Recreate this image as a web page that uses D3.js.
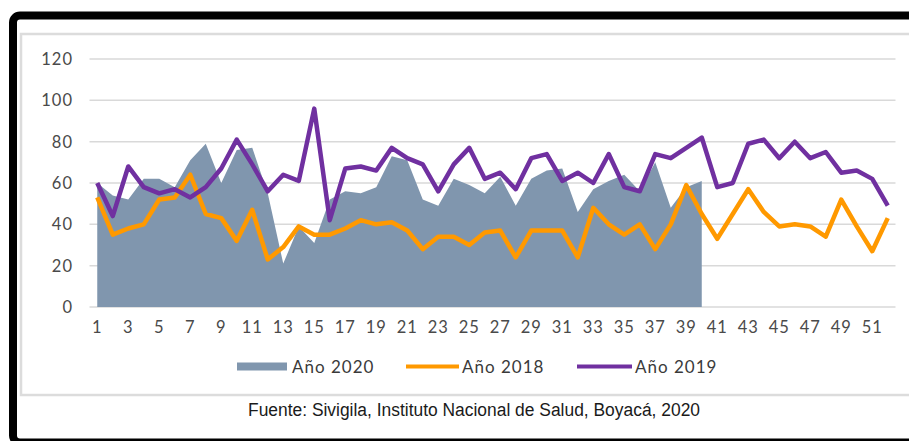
<!DOCTYPE html>
<html>
<head>
<meta charset="utf-8">
<script src="https://cdn.jsdelivr.net/npm/d3@7"></script>
<style>
  body { margin: 0; background: #fff; }
  svg { display: block; }
  .tick-label { font-family: Lato, "Open Sans", sans-serif; font-size: 16.5px; fill: #4a4a4a; letter-spacing: 1px; }
  .legend-label { font-family: Lato, "Open Sans", sans-serif; font-size: 17px; fill: #3a3a3a; letter-spacing: 1px; }
  .source { font-family: "Liberation Sans Narrow", "Liberation Sans", sans-serif; font-size: 18px; fill: #1a1a1a; }
</style>
</head>
<body>
<div id="chart"></div>
<script>
var svgWidth = 909;
var svgHeight = 441;

// weeks 1..52
var weeks = d3.range(1, 53);

// Año 2020 (area, weeks 1-40)
var cases2020 = [60, 54, 52, 62, 62, 58, 71, 79, 60, 76, 77, 55, 21, 39, 31, 52, 56, 55, 58, 73,
  71, 52, 49, 62, 59, 55, 63, 49, 62, 66, 67, 46, 57, 61, 64, 56, 70, 48, 58, 61];

// Año 2018 (orange line)
var cases2018 = [53, 35, 38, 40, 52, 53, 64, 45, 43, 32, 47, 23, 29, 39, 35, 35, 38, 42, 40, 41,
  37, 28, 34, 34, 30, 36, 37, 24, 37, 37, 37, 24, 48, 40, 35, 40, 28, 40, 59, 45,
  33, 45, 57, 46, 39, 40, 39, 34, 52, 39, 27, 43];

// Año 2019 (purple line)
var cases2019 = [60, 44, 68, 58, 55, 57, 53, 58, 67, 81, 69, 56, 64, 61, 96, 42, 67, 68, 66, 77,
  72, 69, 56, 69, 77, 62, 65, 57, 72, 74, 61, 65, 60, 74, 58, 56, 74, 72, 77, 82,
  58, 60, 79, 81, 72, 80, 72, 75, 65, 66, 62, 49];

var yTicks = [0, 20, 40, 60, 80, 100, 120];
var legendNames = ["Año 2020", "Año 2018", "Año 2019"];
var sourceText = "Fuente: Sivigila, Instituto Nacional de Salud, Boyacá, 2020";

var colors = { area: "#8096ae", y2018: "#ff9900", y2019: "#7030a0" };

var svg = d3.select("#chart")
  .append("svg")
  .attr("width", svgWidth)
  .attr("height", svgHeight);

// outer black frame (right side runs off the picture)
svg.append("rect")
  .attr("x", 13).attr("y", 15.5)
  .attr("width", 1000).attr("height", 427)
  .attr("rx", 7)
  .attr("fill", "#fff")
  .attr("stroke", "#000")
  .attr("stroke-width", 8);

// inner chart area border
svg.append("rect")
  .attr("x", 21).attr("y", 34)
  .attr("width", 1000).attr("height", 361)
  .attr("fill", "none")
  .attr("stroke", "#dcdcdc")
  .attr("stroke-width", 2.5);

// scales
var xScale = d3.scaleBand()
  .domain(weeks)
  .range([89.5, 895.5]);

var xc = function(w) { return xScale(w) + xScale.bandwidth() / 2; };

var yScale = d3.scaleLinear()
  .domain([0, 120])
  .range([307, 59]);

// gridlines
svg.append("g").selectAll("line")
  .data(yTicks)
  .enter()
  .append("line")
  .attr("x1", 89.5).attr("x2", 895.5)
  .attr("y1", d => yScale(d)).attr("y2", d => yScale(d))
  .attr("stroke", "#d9d9d9")
  .attr("stroke-width", 1.5);

// y labels
svg.append("g").selectAll("text")
  .data(yTicks)
  .enter()
  .append("text")
  .attr("class", "tick-label")
  .attr("x", 73)
  .attr("y", d => yScale(d))
  .attr("dy", "0.36em")
  .attr("text-anchor", "end")
  .text(d => d);

// x labels (odd weeks)
svg.append("g").selectAll("text")
  .data(weeks.filter(w => w % 2 === 1))
  .enter()
  .append("text")
  .attr("class", "tick-label")
  .attr("x", d => xc(d))
  .attr("y", 333)
  .attr("text-anchor", "middle")
  .text(d => d);

// 2020 area
var area = d3.area()
  .x((d, i) => xc(weeks[i]))
  .y0(yScale(0))
  .y1(d => yScale(d));

svg.append("path")
  .datum(cases2020)
  .attr("d", area)
  .attr("fill", colors.area);

// lines
var line = d3.line()
  .x((d, i) => xc(weeks[i]))
  .y(d => yScale(d));

svg.append("path")
  .datum(cases2018)
  .attr("d", line)
  .attr("fill", "none")
  .attr("stroke", colors.y2018)
  .attr("stroke-width", 4.5)
  .attr("stroke-linejoin", "round");

svg.append("path")
  .datum(cases2019)
  .attr("d", line)
  .attr("fill", "none")
  .attr("stroke", colors.y2019)
  .attr("stroke-width", 4.5)
  .attr("stroke-linejoin", "round");

// legend
var legendY = 366.5;
svg.append("rect")
  .attr("x", 237).attr("y", legendY - 4)
  .attr("width", 50).attr("height", 8)
  .attr("fill", colors.area);
svg.append("text").attr("class", "legend-label")
  .attr("x", 292).attr("y", legendY).attr("dy", "0.36em")
  .text(legendNames[0]);

svg.append("line")
  .attr("x1", 406).attr("x2", 459)
  .attr("y1", legendY).attr("y2", legendY)
  .attr("stroke", colors.y2018).attr("stroke-width", 4);
svg.append("text").attr("class", "legend-label")
  .attr("x", 462).attr("y", legendY).attr("dy", "0.36em")
  .text(legendNames[1]);

svg.append("line")
  .attr("x1", 577).attr("x2", 632)
  .attr("y1", legendY).attr("y2", legendY)
  .attr("stroke", colors.y2019).attr("stroke-width", 4);
svg.append("text").attr("class", "legend-label")
  .attr("x", 635).attr("y", legendY).attr("dy", "0.36em")
  .text(legendNames[2]);

// source note
svg.append("text")
  .attr("class", "source")
  .attr("x", 248)
  .attr("y", 416)
  .attr("textLength", 452)
  .attr("lengthAdjust", "spacingAndGlyphs")
  .text(sourceText);
</script>
</body>
</html>
